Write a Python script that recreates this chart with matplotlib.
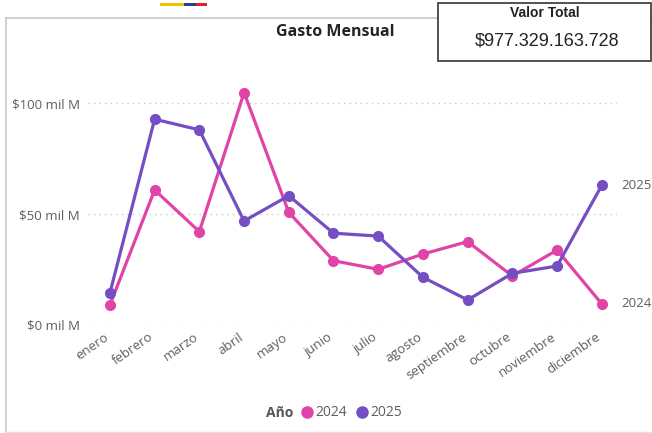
import matplotlib
matplotlib.use("Agg")
import matplotlib.pyplot as plt
import matplotlib.transforms as mtransforms
from matplotlib.patches import Rectangle
from matplotlib.lines import Line2D

months = ["enero", "febrero", "marzo", "abril", "mayo", "junio", "julio",
          "agosto", "septiembre", "octubre", "noviembre", "diciembre"]
gasto_2024 = [9.0, 60.9, 42.1, 104.8, 50.8, 29.0, 25.1, 32.0, 37.6, 22.1, 33.8, 9.5]
gasto_2025 = [14.4, 92.8, 88.0, 46.9, 58.3, 41.4, 40.1, 21.5, 11.3, 23.3, 26.6, 63.0]
yticks = [0, 50, 100]
ytick_labels = ["$0 mil M", "$50 mil M", "$100 mil M"]
series_names = ["2024", "2025"]
total_label = "$977.329.163.728"

C24 = "#E044A7"
C25 = "#744EC2"
GREY = "#605E5C"

W, H = 652, 433
fig = plt.figure(figsize=(W / 100, H / 100), dpi=100)
fig.patch.set_facecolor("white")

def fx(px):
    return px / W

def fy(py):
    return 1 - py / H

# card border
fig.add_artist(Line2D([fx(6), fx(6)], [fy(18), fy(432)], color="#c8c8c8", lw=1.2))
fig.add_artist(Line2D([fx(6), fx(652)], [fy(18), fy(18)], color="#c8c8c8", lw=1.2))
fig.add_artist(Line2D([fx(6), fx(652)], [fy(432), fy(432)], color="#e0e0e0", lw=1.0))

# colored strip at top
fig.add_artist(Rectangle((fx(160), fy(6)), fx(24), 3 / H, color="#F5C000", lw=0))
fig.add_artist(Rectangle((fx(184), fy(6)), fx(12), 3 / H, color="#2B3E8C", lw=0))
fig.add_artist(Rectangle((fx(196), fy(6)), fx(11), 3 / H, color="#E0202E", lw=0))

ax = fig.add_axes([fx(88), fy(325), fx(617 - 88), (325 - 70) / H])
x = list(range(len(months)))
ax.plot(x, gasto_2024, color=C24, lw=2.3, marker="o", ms=7, clip_on=False, zorder=3)
ax.plot(x, gasto_2025, color=C25, lw=2.3, marker="o", ms=7, clip_on=False, zorder=4)
ax.set_xlim(-0.49, 11.34)
ax.set_ylim(0, 115)
ax.set_yticks(yticks)
ax.set_yticklabels(ytick_labels)
ax.set_xticks(x)
ax.set_xticklabels(months, rotation=35, ha="right", rotation_mode="anchor")
for s in ax.spines.values():
    s.set_visible(False)
ax.tick_params(length=0, colors=GREY, labelsize=9.5, pad=6)
ax.tick_params(axis="x", pad=4)
for lbl in ax.get_xticklabels() + ax.get_yticklabels():
    lbl.set_fontfamily("Open Sans")
shift = mtransforms.ScaledTranslation(-6 / 100, 0, fig.dpi_scale_trans)
for lbl in ax.get_xticklabels():
    lbl.set_transform(lbl.get_transform() + shift)
ax.grid(axis="y", color="#c8c8c8", ls=(0, (1, 3)), lw=1)
ax.set_axisbelow(True)

# end labels
ax.annotate(series_names[1], (11, gasto_2025[-1]), xytext=(14, 0), textcoords="offset points",
            va="center", ha="left", color=GREY, fontsize=9.5, family="Open Sans", annotation_clip=False)
ax.annotate(series_names[0], (11, gasto_2024[-1]), xytext=(14, 0), textcoords="offset points",
            va="center", ha="left", color=GREY, fontsize=9.5, family="Open Sans", annotation_clip=False)

# title
fig.text(fx(335), fy(32), "Gasto Mensual", ha="center", va="center", fontsize=11.5,
         fontweight="bold", color="#252423", family="Open Sans")

# KPI box
fig.add_artist(Rectangle((fx(438), fy(61)), fx(213), (61 - 3) / H, fill=True,
                         facecolor="white", edgecolor="#333333", lw=1.2, zorder=5))
fig.text(fx(545), fy(13), "Valor Total", ha="center", va="center", fontsize=10,
         fontweight="bold", color="#222222", family="Liberation Sans", zorder=6)
fig.text(fx(547), fy(41), total_label, ha="center", va="center", fontsize=13,
         color="#222222", family="Liberation Sans", zorder=6)

# legend
fig.text(fx(280), fy(413), "Año", ha="center", va="center", fontsize=10,
         fontweight="bold", color="#555555", family="Open Sans")
handles = [Line2D([], [], ls="none", marker="o", ms=8, color=C24),
           Line2D([], [], ls="none", marker="o", ms=8, color=C25)]
leg = fig.legend(handles, series_names, loc="center left", bbox_to_anchor=(fx(293), fy(413)),
                 ncol=2, frameon=False, handletextpad=0.1, columnspacing=0.6,
                 handlelength=1.0, borderpad=0, prop={"family": "Open Sans", "size": 10})
for t in leg.get_texts():
    t.set_color(GREY)

fig.savefig("out.png", dpi=100)
